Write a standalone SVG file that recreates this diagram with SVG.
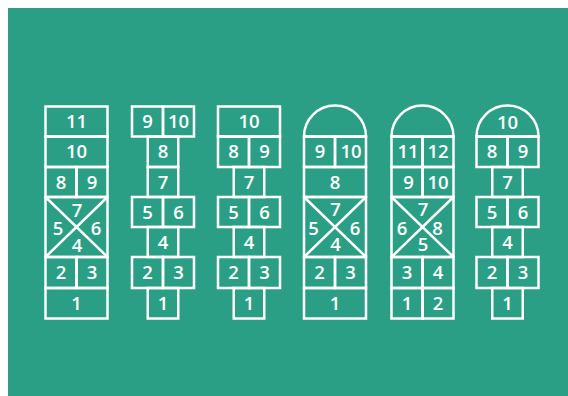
<svg xmlns="http://www.w3.org/2000/svg" width="568" height="396" viewBox="0 0 568 396">
<style>
.c{fill:none;stroke:#fff;stroke-width:2.5;stroke-linejoin:miter}
text{fill:#fff;font-family:"Open Sans","Liberation Sans",sans-serif;font-size:18.5px;font-weight:600;text-anchor:middle}
</style>
<rect x="0" y="0" width="568" height="396" fill="#fff"/>
<rect x="8" y="8" width="560" height="388" fill="#2b9f85"/>
<g id="grid1">
<rect class="c" x="45.5" y="106.5" width="62" height="30"/>
<rect class="c" x="45.5" y="136.5" width="62" height="30.5"/>
<rect class="c" x="45.5" y="167" width="31" height="30"/>
<rect class="c" x="76.5" y="167" width="31" height="30"/>
<rect class="c" x="45.5" y="197" width="62" height="60"/>
<path class="c" d="M45.5 197L107.5 257M107.5 197L45.5 257"/>
<rect class="c" x="45.5" y="257" width="31" height="31"/>
<rect class="c" x="76.5" y="257" width="31" height="31"/>
<rect class="c" x="45.5" y="288" width="62" height="30.5"/>
<text x="76.5" y="128">11</text>
<text x="76.5" y="158.3">10</text>
<text x="61" y="188.5">8</text>
<text x="92" y="188.5">9</text>
<text x="77" y="217">7</text>
<text x="58" y="235">5</text>
<text x="96" y="235">6</text>
<text x="77" y="252">4</text>
<text x="61" y="279">2</text>
<text x="92" y="279">3</text>
<text x="76.5" y="309.8">1</text>
</g>
<g id="grid2">
<rect class="c" x="132" y="106.5" width="31" height="30"/>
<rect class="c" x="163" y="106.5" width="31" height="30"/>
<rect class="c" x="147.75" y="136.5" width="30.5" height="30.5"/>
<rect class="c" x="147.75" y="167" width="30.5" height="30"/>
<rect class="c" x="132" y="197" width="31" height="30"/>
<rect class="c" x="163" y="197" width="31" height="30"/>
<rect class="c" x="147.75" y="227" width="30.5" height="30"/>
<rect class="c" x="132" y="257" width="31" height="31"/>
<rect class="c" x="163" y="257" width="31" height="31"/>
<rect class="c" x="147.75" y="288" width="30.5" height="30.5"/>
<text x="147.5" y="128">9</text>
<text x="178.5" y="128">10</text>
<text x="163" y="158.3">8</text>
<text x="163" y="188.5">7</text>
<text x="147.5" y="218.5">5</text>
<text x="178.5" y="218.5">6</text>
<text x="163" y="248.5">4</text>
<text x="147.5" y="279">2</text>
<text x="178.5" y="279">3</text>
<text x="163" y="309.8">1</text>
</g>
<g id="grid3">
<rect class="c" x="218" y="106.5" width="62" height="30"/>
<rect class="c" x="218" y="136.5" width="31" height="30.5"/>
<rect class="c" x="249" y="136.5" width="31" height="30.5"/>
<rect class="c" x="233.75" y="167" width="30.5" height="30"/>
<rect class="c" x="218" y="197" width="31" height="30"/>
<rect class="c" x="249" y="197" width="31" height="30"/>
<rect class="c" x="233.75" y="227" width="30.5" height="30"/>
<rect class="c" x="218" y="257" width="31" height="31"/>
<rect class="c" x="249" y="257" width="31" height="31"/>
<rect class="c" x="233.75" y="288" width="30.5" height="30.5"/>
<text x="249" y="128">10</text>
<text x="233.5" y="158.3">8</text>
<text x="264.5" y="158.3">9</text>
<text x="249" y="188.5">7</text>
<text x="233.5" y="218.5">5</text>
<text x="264.5" y="218.5">6</text>
<text x="249" y="248.5">4</text>
<text x="233.5" y="279">2</text>
<text x="264.5" y="279">3</text>
<text x="249" y="309.8">1</text>
</g>
<g id="grid4">
<path class="c" d="M304 136.5A31 31 0 0 1 366 136.5Z"/>
<rect class="c" x="304" y="136.5" width="31" height="30.5"/>
<rect class="c" x="335" y="136.5" width="31" height="30.5"/>
<rect class="c" x="304" y="167" width="62" height="30"/>
<rect class="c" x="304" y="197" width="62" height="60"/>
<path class="c" d="M304 197L366 257M366 197L304 257"/>
<rect class="c" x="304" y="257" width="31" height="31"/>
<rect class="c" x="335" y="257" width="31" height="31"/>
<rect class="c" x="304" y="288" width="62" height="30.5"/>
<text x="320" y="158.3">9</text>
<text x="351" y="158.3">10</text>
<text x="335" y="188.5">8</text>
<text x="335.5" y="216">7</text>
<text x="313.5" y="234.5">5</text>
<text x="355" y="234.5">6</text>
<text x="335.5" y="251">4</text>
<text x="319.5" y="279">2</text>
<text x="350.5" y="279">3</text>
<text x="335" y="309.8">1</text>
</g>
<g id="grid5">
<path class="c" d="M391.5 136.5A31 31 0 0 1 453.5 136.5Z"/>
<rect class="c" x="391.5" y="136.5" width="31" height="30.5"/>
<rect class="c" x="422.5" y="136.5" width="31" height="30.5"/>
<rect class="c" x="391.5" y="167" width="31" height="30"/>
<rect class="c" x="422.5" y="167" width="31" height="30"/>
<rect class="c" x="391.5" y="197" width="62" height="60"/>
<path class="c" d="M391.5 197L453.5 257M453.5 197L391.5 257"/>
<rect class="c" x="391.5" y="257" width="31" height="31"/>
<rect class="c" x="422.5" y="257" width="31" height="31"/>
<rect class="c" x="391.5" y="288" width="31" height="30.5"/>
<rect class="c" x="422.5" y="288" width="31" height="30.5"/>
<text x="408" y="158.3">11</text>
<text x="438" y="158.3">12</text>
<text x="408.5" y="188.5">9</text>
<text x="438" y="188.5">10</text>
<text x="423" y="216">7</text>
<text x="402" y="234.5">6</text>
<text x="437.5" y="234.5">8</text>
<text x="423" y="251">5</text>
<text x="407" y="279">3</text>
<text x="438" y="279">4</text>
<text x="407" y="309.8">1</text>
<text x="438" y="309.8">2</text>
</g>
<g id="grid6">
<path class="c" d="M476.5 136.5A31 31 0 0 1 538.5 136.5Z"/>
<rect class="c" x="476.5" y="136.5" width="31" height="30.5"/>
<rect class="c" x="507.5" y="136.5" width="31" height="30.5"/>
<rect class="c" x="492.25" y="167" width="30.5" height="30"/>
<rect class="c" x="476.5" y="197" width="31" height="30"/>
<rect class="c" x="507.5" y="197" width="31" height="30"/>
<rect class="c" x="492.25" y="227" width="30.5" height="30"/>
<rect class="c" x="476.5" y="257" width="31" height="31"/>
<rect class="c" x="507.5" y="257" width="31" height="31"/>
<rect class="c" x="492.25" y="288" width="30.5" height="30.5"/>
<text x="507.5" y="128.5">10</text>
<text x="492" y="158.3">8</text>
<text x="523" y="158.3">9</text>
<text x="507.5" y="188.5">7</text>
<text x="492" y="218.5">5</text>
<text x="523" y="218.5">6</text>
<text x="507.5" y="248.5">4</text>
<text x="492" y="279">2</text>
<text x="523" y="279">3</text>
<text x="507.5" y="309.8">1</text>
</g>
</svg>
